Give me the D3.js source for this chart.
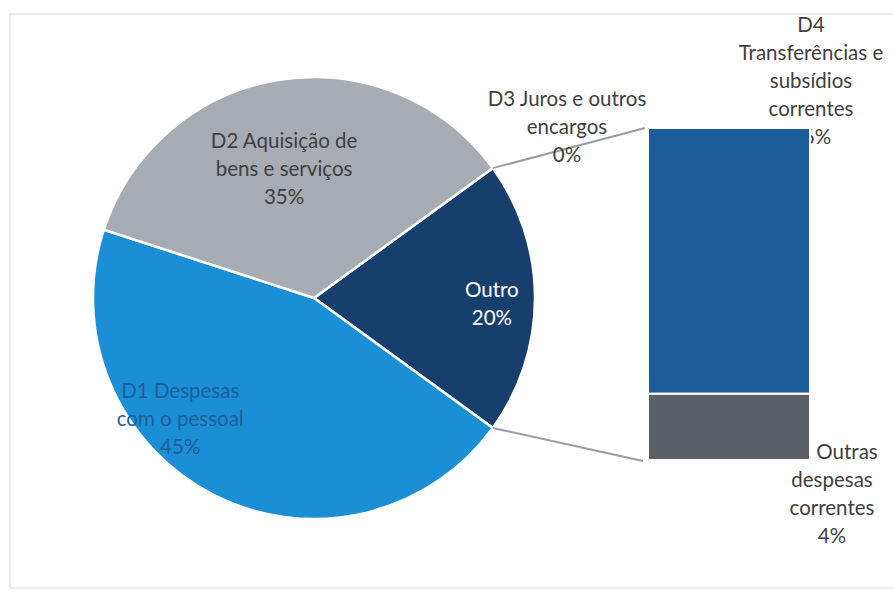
<!DOCTYPE html>
<html>
<head>
<meta charset="utf-8">
<script src="https://cdn.jsdelivr.net/npm/d3@7"></script>
<style>
  body { margin: 0; background: #fff; }
  text { font-family: Lato, "Noto Sans", sans-serif; font-size: 20.5px; }
</style>
</head>
<body>
<div id="chart"></div>
<script>
// pie part (clockwise, starting at the "Outro" slice)
const pieLabels = ["Outro", "D1 Despesas\ncom o pessoal", "D2 Aquisição de\nbens e serviços"];
const pieValues = [20, 45, 35];
const pieColors = ["#173f6e", "#1b8fd5", "#a7abb2"];

// bar part, stacked from the bottom
const barLabels = ["Outras\ndespesas\ncorrentes", "D3 Juros e outros\nencargos", "D4\nTransferências e\nsubsídios\ncorrentes"];
const barValues = [4, 0, 16];
const barColors = ["#5b6067", "#1c5c99", "#1c5c99"];

const W = 893, H = 593;
const cx = 314, cy = 298, R = 221;

const svg = d3.select('#chart').append('svg')
    .attr('width', W)
    .attr('height', H);

svg.append('rect')
    .attr('x', 10).attr('y', 14)
    .attr('width', 900).attr('height', 574)
    .attr('fill', '#fff')
    .attr('stroke', '#d9d9d9');

const outroFrac = pieValues[0] / d3.sum(pieValues);
const start = Math.PI / 2 - outroFrac * Math.PI;

const pie = d3.pie().sort(null).startAngle(start).endAngle(start + 2 * Math.PI);
const arcs = pie(pieValues);
const arc = d3.arc().innerRadius(0).outerRadius(R);

const g = svg.append('g').attr('transform', `translate(${cx},${cy})`);

g.selectAll('path')
    .data(arcs)
    .enter().append('path')
    .attr('d', arc)
    .attr('fill', (d, i) => pieColors[i])
    .attr('stroke', '#fff')
    .attr('stroke-width', 2.5);

// bar scale
const y = d3.scaleLinear().domain([0, pieValues[0]]).range([460, 128]);
const barX = 648, barW = 162;
let acc = 0;
const stack = barValues.map(v => { const s = acc; acc += v; return [s, acc]; });

// connectors
const a0 = arcs[0];
const p1 = [cx + R * Math.sin(a0.startAngle), cy - R * Math.cos(a0.startAngle)];
const p2 = [cx + R * Math.sin(a0.endAngle), cy - R * Math.cos(a0.endAngle)];
svg.append('line')
    .attr('x1', p1[0]).attr('y1', p1[1])
    .attr('x2', barX - 3).attr('y2', y(acc))
    .attr('stroke', '#9a9ca3').attr('stroke-width', 2);
svg.append('line')
    .attr('x1', p2[0]).attr('y1', p2[1])
    .attr('x2', barX - 5).attr('y2', y(0) + 1)
    .attr('stroke', '#9a9ca3').attr('stroke-width', 2);

const pct = v => Math.round(v) + '%';

const drawLabel = (lines, x, yc, color, shifts = [], lh = 28) => {
    const t = svg.append('text')
        .attr('text-anchor', 'middle')
        .attr('fill', color);
    lines.forEach((l, i) => {
        t.append('tspan')
            .attr('x', x + (shifts[i] || 0))
            .attr('y', yc + i * lh)
            .attr('dy', '0.35em')
            .text(l);
    });
    return t;
};

// pie labels (polar positions from the centre)
const pieLabelPos = [[92, 178], [228, 180], [347, 133]];
const pieTextColors = ["#ffffff", "#1f5e96", "#404040"];
arcs.forEach((d, i) => {
    const [ang, r] = pieLabelPos[i];
    const rad = ang * Math.PI / 180;
    const lines = pieLabels[i].split('\n').concat(pct(pieValues[i]));
    const x = cx + r * Math.sin(rad);
    const yc = cy - r * Math.cos(rad) - (lines.length - 1) * 14;
    drawLabel(lines, x, yc, pieTextColors[i]);
});

// bar labels, drawn before the bars (the bar covers part of the D4 label)
const barLabelPos = [[832, 452, [15]], [567, 99], [811, 25]];
barLabels.forEach((l, i) => {
    const lines = l.split('\n').concat(pct(barValues[i]));
    drawLabel(lines, barLabelPos[i][0], barLabelPos[i][1], '#404040', barLabelPos[i][2]);
});

svg.selectAll('.bar')
    .data(stack)
    .enter().append('rect')
    .attr('class', 'bar')
    .attr('x', barX)
    .attr('width', barW)
    .attr('y', d => y(d[1]))
    .attr('height', d => y(d[0]) - y(d[1]))
    .attr('fill', (d, i) => barColors[i])
    .attr('stroke', '#fff')
    .attr('stroke-width', (d, i) => barValues[i] > 0 ? 2 : 0);
</script>
</body>
</html>
